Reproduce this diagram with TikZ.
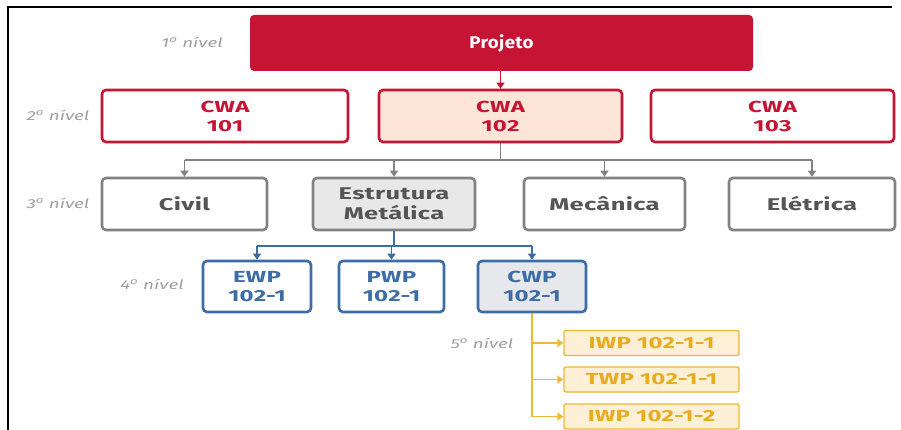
\documentclass[tikz,border=0pt]{standalone}
\usepackage{fontspec}
\setmainfont{Fira Sans}
\newfontfamily\wbsfont[FakeStretch=1.5, LetterSpace=2]{Fira Sans}
\newfontfamily\topfont[FakeStretch=1.1, LetterSpace=2]{Fira Sans}
\newfontfamily\lvlfont[FakeStretch=1.45]{Fira Sans}
\usetikzlibrary{arrows.meta}

\definecolor{projred}{RGB}{198,21,52}
\definecolor{peach}{RGB}{253,229,216}
\definecolor{greyline}{RGB}{130,130,130}
\definecolor{greytext}{RGB}{85,85,85}
\definecolor{greyfill}{RGB}{232,232,232}
\definecolor{wpblue}{RGB}{62,108,165}
\definecolor{wpfill}{RGB}{230,232,236}
\definecolor{gold}{RGB}{238,184,52}
\definecolor{goldtext}{RGB}{232,172,30}
\definecolor{goldfill}{RGB}{253,240,214}
\definecolor{levelgrey}{RGB}{160,160,160}

\newcommand{\ordo}{\textsuperscript{o}}

\tikzset{
  wbs/.style={rounded corners=4pt, align=center, inner sep=0pt},
  lvl1/.style={wbs, fill=projred, text=white, font=\topfont\bfseries\fontsize{17}{19}\selectfont},
  lvl2/.style={wbs, draw=projred, line width=2.6pt, fill=white, text=projred,
    minimum height=52pt, font=\wbsfont\bfseries\fontsize{16}{19}\selectfont},
  lvl3/.style={wbs, draw=greyline, line width=2.6pt, fill=white, text=greytext,
    minimum height=52pt, font=\wbsfont\bfseries\fontsize{17}{20}\selectfont},
  lvl4/.style={wbs, draw=wpblue, line width=2.6pt, fill=white, text=wpblue,
    minimum width=108pt, minimum height=51pt, font=\wbsfont\bfseries\fontsize{16}{19}\selectfont},
  lvl5/.style={wbs, rounded corners=2pt, draw=gold, line width=1.4pt, fill=goldfill, text=goldtext,
    minimum width=175pt, minimum height=25pt, font=\wbsfont\bfseries\fontsize{16}{18}\selectfont},
  levellabel/.style={text=levelgrey, font=\lvlfont\itshape\fontsize{13}{15}\selectfont},
  tip/.style={-{Triangle[width=8pt,length=6pt]}},
}

\begin{document}
\begin{tikzpicture}[x=1pt,y=-1pt]
\useasboundingbox (0,0) rectangle (901,430);

% frame (top and left edges only)
\draw[line width=2.5pt] (8,430) -- (8,7) -- (892,7);

% level labels
\node[levellabel] (l1) at (192,42) {1\ordo{} nível};
\node[levellabel] (l2) at (58,115) {2\ordo{} nível};
\node[levellabel] (l3) at (58,203) {3\ordo{} nível};
\node[levellabel] (l4) at (152,284) {4\ordo{} nível};
\node[levellabel] (l5) at (482,343) {5\ordo{} nível};

% level 1
\node[lvl1, minimum width=503pt, minimum height=56pt] (proj) at (501.5,43) {Projeto};

% level 2
\node[lvl2, minimum width=246pt] (cwa101) at (225,116) {CWA\\101};
\node[lvl2, minimum width=243pt, fill=peach] (cwa102) at (500.5,116) {CWA\\102};
\node[lvl2, minimum width=243pt] (cwa103) at (772.5,116) {CWA\\103};

% level 3
\node[lvl3, minimum width=165pt] (civil) at (184.5,204) {Civil};
\node[lvl3, minimum width=162pt, fill=greyfill] (estr) at (394,204) {Estrutura\\Metálica};
\node[lvl3, minimum width=161pt] (mec) at (604.5,204) {Mecânica};
\node[lvl3, minimum width=166pt] (ele) at (812,204) {Elétrica};

% level 4
\node[lvl4] (ewp) at (257,286.5) {EWP\\102-1};
\node[lvl4, minimum width=105pt] (pwp) at (391.5,286.5) {PWP\\102-1};
\node[lvl4, fill=wpfill] (cwp) at (532,286.5) {CWP\\102-1};

% level 5
\node[lvl5] (iwp1) at (651.5,343) {IWP 102-1-1};
\node[lvl5] (twp1) at (651.5,379.5) {TWP 102-1-1};
\node[lvl5] (iwp2) at (651.5,416.5) {IWP 102-1-2};

% connectors: project -> CWA 102
\draw[projred, line width=1.6pt, tip] (proj.south -| cwa102.north) -- (cwa102.north);

% CWA 102 -> disciplines
\coordinate (gbus) at (0,160);
\draw[greyline, line width=1.6pt] (cwa102.south) -- (cwa102.south |- gbus);
\draw[greyline, line width=1.6pt] (civil.north |- gbus) -- (ele.north |- gbus);
\foreach \n in {civil,estr,mec,ele}
  \draw[greyline, line width=1.6pt, tip] (\n.north |- gbus) -- (\n.north);

% Estrutura Metálica -> work packages
\coordinate (bbus) at (0,246);
\draw[wpblue, line width=1.6pt] (estr.south) -- (estr.south |- bbus);
\draw[wpblue, line width=1.6pt] (ewp.north |- bbus) -- (cwp.north |- bbus);
\foreach \n in {ewp,pwp,cwp}
  \draw[wpblue, line width=1.6pt, tip] (\n.north |- bbus) -- (\n.north);

% CWP -> installation packages
\draw[gold, line width=1.4pt] (cwp.south) -- (cwp.south |- iwp2.west);
\foreach \n in {iwp1,twp1,iwp2}
  \draw[gold, line width=1.4pt, tip] (cwp.south |- \n.west) -- (\n.west);
\end{tikzpicture}
\end{document}
